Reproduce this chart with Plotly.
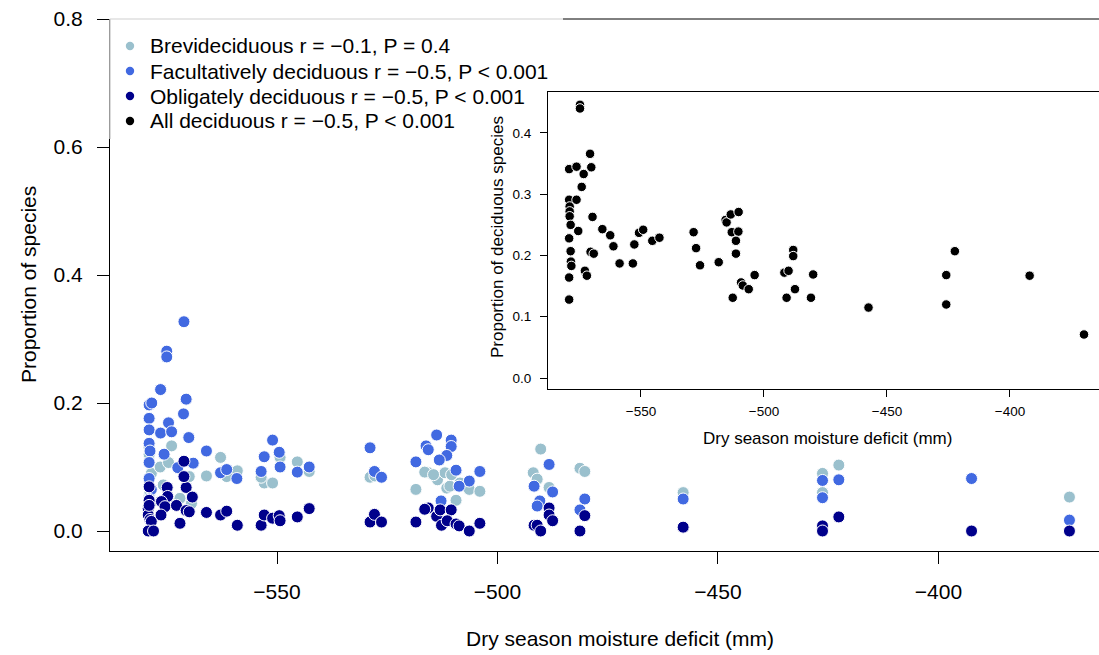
import plotly.graph_objects as go

# ---------------- data ----------------
brevi_x = [-579.0, -579.0, -578.5, -579.0, -578.5, -578.8,
           -573.9, -576.5, -574.6, -569.9, -575.8, -572.0, -569.4,
           -562.8, -566.0, -559.0, -561.4, -552.9, -551.0, -553.6, -549.3, -545.4, -542.7,
           -528.9, -527.8, -518.5, -515.7, -516.5, -513.6, -511.9, -511.5, -510.8, -509.4,
           -506.4, -504.0, -510.4, -514.5, -508.5,
           -490.2, -491.9, -491.0, -488.3, -481.3, -480.2,
           -457.9, -426.3, -426.3, -422.6, -370.3]
brevi_y = [0.130, 0.120, 0.090, 0.055, 0.045, 0.060,
           0.133, 0.100, 0.107, 0.085, 0.072, 0.051, 0.043,
           0.115, 0.086, 0.094, 0.085, 0.075, 0.075, 0.084, 0.115, 0.108, 0.093,
           0.084, 0.086, 0.065, 0.091, 0.092, 0.080, 0.091, 0.067, 0.070, 0.048,
           0.065, 0.062, 0.088, 0.088, 0.075,
           0.128, 0.091, 0.081, 0.068, 0.098, 0.093,
           0.060, 0.090, 0.060, 0.103, 0.053]

facult_x = [-579.0, -578.4, -579.0, -579.0, -579.0, -578.8, -579.0, -579.0, -578.5, -579.0,
            -576.4, -570.6, -571.2, -574.6, -576.4, -573.9, -570.0, -575.6, -569.0, -572.5,
            -571.1, -575.0, -575.0,
            -566.0, -562.8, -561.4, -559.1, -551.0, -549.5, -552.9, -549.3, -553.6, -545.4, -542.7,
            -528.9, -527.9, -526.3, -518.5, -513.8, -516.2, -515.7, -510.5, -510.5, -511.5,
            -513.2, -509.4, -504.0, -506.4, -508.7, -512.8,
            -488.3, -491.7, -487.5, -490.4, -491.0, -480.2, -481.3,
            -457.9, -426.3, -426.3, -422.6, -392.5, -370.3]
facult_y = [0.197, 0.200, 0.176, 0.158, 0.137, 0.125, 0.107, 0.082, 0.065, 0.050,
            0.221, 0.206, 0.183, 0.169, 0.153, 0.155, 0.146, 0.120, 0.106, 0.099,
            0.327, 0.281, 0.272,
            0.125, 0.091, 0.096, 0.082, 0.142, 0.123, 0.116, 0.100, 0.093, 0.092, 0.100,
            0.130, 0.093, 0.084, 0.108, 0.150, 0.133, 0.127, 0.142, 0.132, 0.118,
            0.111, 0.095, 0.093, 0.078, 0.070, 0.047,
            0.104, 0.070, 0.061, 0.047, 0.039, 0.050, 0.033,
            0.050, 0.079, 0.052, 0.080, 0.082, 0.017]

oblig_x = [-579.0, -579.0, -579.2, -579.2, -578.8, -578.5, -579.2, -578.0, -579.0,
           -574.9, -570.6, -569.2, -574.8, -576.2, -575.4, -572.8, -570.6, -569.9, -576.3,
           -572.0, -571.1, -571.1,
           -566.0, -562.8, -561.4, -559.0, -553.6, -552.9, -551.0, -549.5, -549.3, -545.4, -542.7,
           -528.9, -527.9, -526.3, -518.5, -515.7, -516.5, -513.8, -513.0, -510.5, -512.7,
           -511.4, -509.4, -508.7, -506.4, -504.0,
           -488.3, -488.3, -487.5, -491.7, -491.0, -490.2, -480.2, -481.3,
           -457.9, -426.3, -426.3, -422.6, -392.5, -370.3]
oblig_y = [0.069, 0.048, 0.035, 0.025, 0.018, 0.015, 0.000, 0.000, 0.040,
           0.068, 0.068, 0.053, 0.054, 0.046, 0.038, 0.040, 0.032, 0.030, 0.025,
           0.012, 0.109, 0.085,
           0.029, 0.025, 0.031, 0.009, 0.009, 0.025, 0.020, 0.024, 0.016, 0.022, 0.035,
           0.014, 0.026, 0.014, 0.014, 0.036, 0.034, 0.023, 0.033, 0.033, 0.009,
           0.016, 0.011, 0.008, 0.000, 0.012,
           0.036, 0.025, 0.016, 0.009, 0.009, 0.000, 0.024, 0.000,
           0.006, 0.008, 0.000, 0.022, 0.000, 0.000]

all_x = [-579.2, -576.2, -574.8, -574.8, -570.7, -570.2, -573.3, -574.1, -579.2, -576.2,
         -579.0, -579.0, -579.0, -578.6, -575.5, -579.2, -569.7, -578.6, -570.5, -569.2,
         -578.5, -578.3, -579.2, -572.8, -572.0, -579.2, -565.7, -562.5, -561.2, -558.7,
         -553.3, -552.7, -550.8, -549.1, -545.4, -542.5, -528.6, -527.6, -526.0, -518.4,
         -515.6, -515.2, -513.5, -510.3, -513.1, -510.4, -511.4, -511.4, -509.3, -508.6,
         -506.2, -503.8, -512.7, -488.1, -488.1, -491.7, -490.0, -480.0, -487.4, -490.8,
         -480.9, -457.5, -425.9, -422.4, -425.9, -392.0, -369.9]
all_y = [0.341, 0.345, 0.446, 0.440, 0.366, 0.344, 0.333, 0.312, 0.291, 0.291,
         0.280, 0.272, 0.264, 0.250, 0.240, 0.228, 0.263, 0.207, 0.206, 0.203,
         0.190, 0.183, 0.164, 0.175, 0.167, 0.128, 0.243, 0.233, 0.215, 0.187,
         0.187, 0.218, 0.237, 0.242, 0.224, 0.229, 0.238, 0.212, 0.184, 0.189,
         0.258, 0.254, 0.267, 0.271, 0.238, 0.239, 0.224, 0.203, 0.156, 0.151,
         0.145, 0.168, 0.131, 0.209, 0.199, 0.172, 0.175, 0.169, 0.145, 0.131,
         0.131, 0.115, 0.168, 0.207, 0.120, 0.167, 0.071]

series_names = ["Brevideciduous r = \u22120.1, P = 0.4",
                "Facultatively deciduous r = \u22120.5, P < 0.001",
                "Obligately deciduous r = \u22120.5, P < 0.001",
                "All deciduous r = \u22120.5, P < 0.001"]
colors = ["#9AC0CD", "#4169E1", "#00008B", "#000000"]

main_xticks = [-550, -500, -450, -400]
main_yticks = [0.0, 0.2, 0.4, 0.6, 0.8]
inset_yticks = [0.0, 0.1, 0.2, 0.3, 0.4]

# ---------------- layout geometry (pixels) ----------------
W, H = 1099, 655
L, R, T, B = 110, 1099, 19, 551
PW, PH = R - L, B - T


def px(x):
    return (x - L) / PW


def py(y):
    return (B - y) / PH


FONT = "Liberation Sans, Arial, Helvetica, sans-serif"
FS = 21

fig = go.Figure()
for xs, ys, c in [(brevi_x, brevi_y, colors[0]), (facult_x, facult_y, colors[1]),
                  (oblig_x, oblig_y, colors[2])]:
    fig.add_trace(go.Scatter(x=xs, y=ys, mode="markers", xaxis="x", yaxis="y",
                             marker=dict(size=12, color=c, line=dict(color="white", width=1)),
                             showlegend=False, hoverinfo="skip"))
fig.add_trace(go.Scatter(x=all_x, y=all_y, mode="markers", xaxis="x2", yaxis="y2",
                         marker=dict(size=9.5, color=colors[3], line=dict(color="white", width=1)),
                         showlegend=False, hoverinfo="skip"))

xr = [-587.87, -363.6]
axis_common = dict(showgrid=False, zeroline=False, showline=True, linecolor="black",
                   linewidth=1, ticks="outside", tickcolor="black", tickwidth=1)

fig.update_layout(
    width=W, height=H,
    margin=dict(l=L, r=W - R, t=T, b=H - B, pad=0),
    paper_bgcolor="white", plot_bgcolor="white",
    font=dict(family=FONT, color="black"),
    xaxis=dict(domain=[0, 1], range=xr, tickvals=main_xticks, ticklen=12,
               tickfont=dict(size=FS), anchor="y", ticklabelstandoff=10, **axis_common),
    yaxis=dict(domain=[0, 1], range=[-0.03125, 0.8], tickvals=main_yticks, tickformat=".1f",
               ticklen=12, tickfont=dict(size=FS), anchor="x", ticklabelstandoff=10, **axis_common),
    xaxis2=dict(domain=[px(548), 1], range=[-587.8, -363.8], tickvals=main_xticks, ticklen=7,
                tickfont=dict(size=13.5), anchor="y2", mirror=True, ticklabelstandoff=3,
                **axis_common),
    yaxis2=dict(domain=[py(389), py(92)], range=[-0.01796, 0.4669], tickvals=inset_yticks,
                tickformat=".1f", ticklen=7, tickfont=dict(size=13.5), anchor="x2",
                ticklabelstandoff=6, **axis_common),
)

shapes = []
# top line of main box (black part) and grey part under the legend
shapes.append(dict(type="line", xref="paper", yref="paper", x0=px(563), x1=1, y0=py(T), y1=py(T),
                   line=dict(color="black", width=1)))
shapes.append(dict(type="line", xref="paper", yref="paper", x0=0, x1=px(563), y0=py(T), y1=py(T),
                   line=dict(color="#cfcfcf", width=1)))
shapes.append(dict(type="line", xref="paper", yref="paper", x0=0, x1=0, y0=py(T), y1=py(139),
                   line=dict(color="#cfcfcf", width=1.5), layer="above"))
# legend dots
leg_rows = [46, 71, 96, 121]
for yy, c in zip(leg_rows, colors):
    r = 4.2
    shapes.append(dict(type="circle", xref="paper", yref="paper",
                       x0=px(130 - r), x1=px(130 + r), y0=py(yy + r), y1=py(yy - r),
                       fillcolor=c, line=dict(color=c, width=0)))
fig.update_layout(shapes=shapes)

ann = []
for yy, name in zip(leg_rows, series_names):
    ann.append(dict(text=name, xref="paper", yref="paper", x=px(148), y=py(yy),
                    xanchor="left", yanchor="middle", showarrow=False,
                    font=dict(size=FS, family=FONT, color="black")))
ann.append(dict(text="Proportion of species", xref="paper", yref="paper", x=px(28), y=py(285),
                xanchor="center", yanchor="middle", textangle=-90, showarrow=False,
                font=dict(size=FS, family=FONT)))
ann.append(dict(text="Dry season moisture deficit (mm)", xref="paper", yref="paper", x=px(620),
                y=py(639), xanchor="center", yanchor="middle", showarrow=False,
                font=dict(size=FS, family=FONT)))
ann.append(dict(text="Proportion of deciduous species", xref="paper", yref="paper", x=px(497),
                y=py(237), xanchor="center", yanchor="middle", textangle=-90, showarrow=False,
                font=dict(size=17, family=FONT)))
ann.append(dict(text="Dry season moisture deficit (mm)", xref="paper", yref="paper", x=px(827),
                y=py(438), xanchor="center", yanchor="middle", showarrow=False,
                font=dict(size=17, family=FONT)))
fig.update_layout(annotations=ann)

fig.write_html("out.html", config={"displayModeBar": False},
               post_script="document.body.style.margin='0';")
